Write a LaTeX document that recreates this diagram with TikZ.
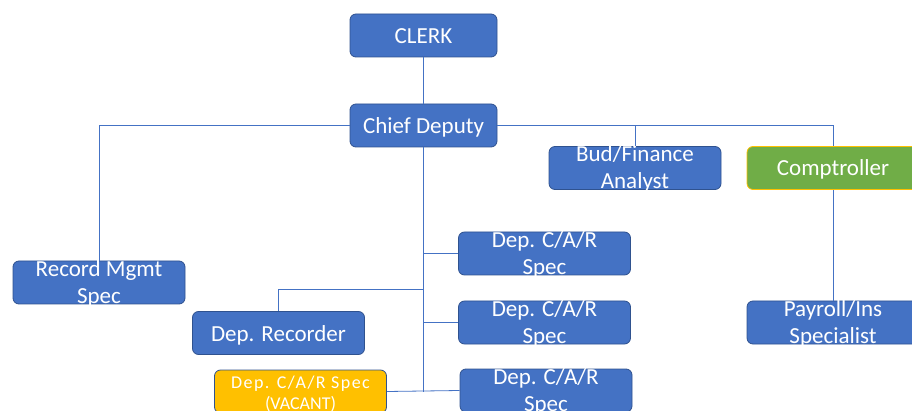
\documentclass[tikz,border=0pt]{standalone}
\usepackage{fontspec}
\setmainfont{Carlito}
\definecolor{boxblue}{HTML}{4472C4}
\definecolor{boxedge}{HTML}{2F528F}
\definecolor{boxgreen}{HTML}{70AD47}
\definecolor{boxgold}{HTML}{FFC000}
\tikzset{
  post/.style={rectangle, rounded corners=6pt, draw=boxedge, line width=0.8pt,
    fill=boxblue, text=white, minimum width=172pt, minimum height=43pt,
    text height=18pt, text depth=2pt, font=\fontsize{23}{27}\selectfont},
  posttext/.style={text=white, align=center, font=\fontsize{23}{27}\selectfont},
  link/.style={draw=boxblue, line width=0.8pt}
}
\begin{document}
\begin{tikzpicture}[x=1pt,y=-1pt]
      \useasboundingbox (0,0) rectangle (912,411);
      \clip (0,0) rectangle (912,411);
      \node[post, minimum width=147pt] (clerk) at (423.5,35.5) {CLERK};
      \node[post, minimum width=147pt] (chief) at (423.5,125.5) {Chief Deputy};
      \node[post, label={[posttext, yshift=-1pt]center:{Bud/Finance\\Analyst}}] (bud) at (635,168) {};
      \node[post, fill=boxgreen, draw=boxgold] (comp) at (833,168) {Comptroller};
      \node[post, label={[posttext, yshift=-1pt]center:{Record Mgmt\\Spec}}] (record) at (99,282.5) {};
      \node[post] (recorder) at (278.5,333) {Dep. Recorder};
      \node[post, fill=boxgold, label={[posttext, yshift=-2pt, font=\fontsize{18}{21}\selectfont]center:{\addfontfeature{LetterSpace=8}Dep. C/A/R Spec\\(VACANT)}}]
        (vacant) at (300.5,391.5) {};
      \node[post, label={[posttext, yshift=-1pt]center:{Dep. C/A/R\\Spec}}] (car1) at (544.5,253.5) {};
      \node[post, label={[posttext, yshift=-1pt]center:{Dep. C/A/R\\Spec}}] (car2) at (544.5,322.5) {};
      \node[post, label={[posttext, yshift=-1pt]center:{Dep. C/A/R\\Spec}}] (car3) at (546,390.5) {};
      \node[post, label={[posttext, yshift=-1pt]center:{Payroll/Ins\\Specialist}}] (payroll) at (833,322.5) {};
      \coordinate (trunk) at (423.5,392);
      \coordinate (rjoin) at (423.5,289);
      \begin{scope}[link]
        \draw (clerk) -- (chief);
        \draw (chief.west) -| (record.north);
        \draw (chief.east) -| (bud.north);
        \draw (chief.east) -| (comp.north);
        \draw (comp) -- (payroll);
        \draw (chief.south) -- (trunk);
        \draw (car1.west) -- (car1.west -| trunk);
        \draw (car2.west) -- (car2.west -| trunk);
        \draw (recorder.north) |- (rjoin);
        \draw (vacant.east) -- (car3.west);
      \end{scope}
    \end{tikzpicture}
\end{document}
